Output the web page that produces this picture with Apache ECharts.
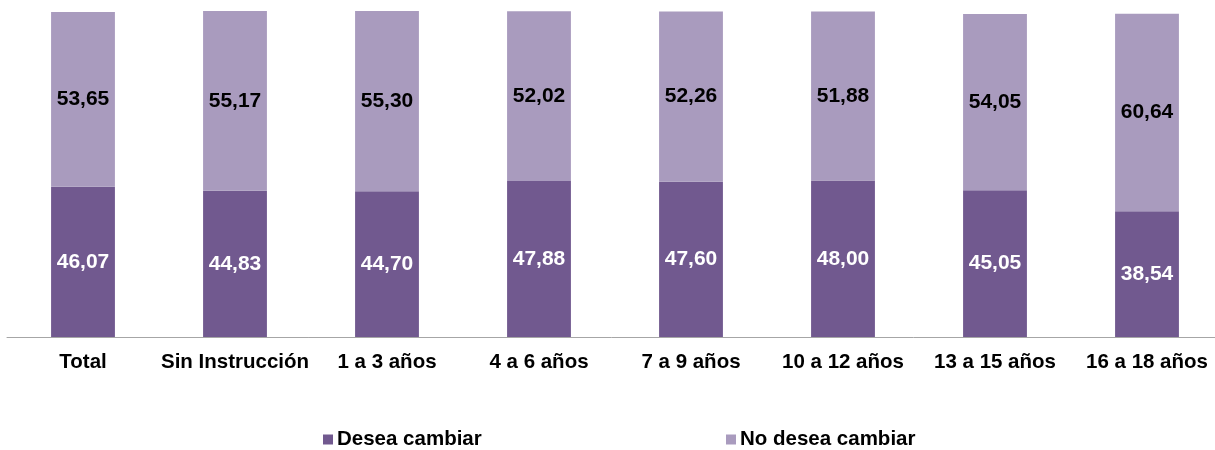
<!DOCTYPE html>
<html>
<head>
<meta charset="utf-8">
<script src="https://cdn.jsdelivr.net/npm/echarts@6/dist/echarts.min.js"></script>
<style>
html,body{margin:0;padding:0;background:#fff;}
#chart{width:1215px;height:450px;}
</style>
</head>
<body>
<div id="chart"></div>
<script>
var categories = ['Total', 'Sin Instrucción', '1 a 3 años', '4 a 6 años', '7 a 9 años', '10 a 12 años', '13 a 15 años', '16 a 18 años'];
var deseaCambiar = [46.07, 44.83, 44.70, 47.88, 47.60, 48.00, 45.05, 38.54];
var noDeseaCambiar = [53.65, 55.17, 55.30, 52.02, 52.26, 51.88, 54.05, 60.64];

var myChart = echarts.init(document.getElementById('chart'));

function fmt(p) {
	return p.value.toFixed(2).replace('.', ',');
}

var legendText = { fontSize: 20.5, fontWeight: 'bold', color: '#000', padding: [0, 0, 0, -1] };

var option = {
	animation: false,
	textStyle: { fontFamily: 'Liberation Sans, Arial, sans-serif' },
	grid: { left: 7, width: 1216, top: 11, bottom: 113, containLabel: false, outerBoundsMode: 'none' },
	legend: [
		{ top: 429, left: 323, padding: 0, itemWidth: 10, itemHeight: 10, icon: 'rect', textStyle: legendText, data: ['Desea cambiar'] },
		{ top: 429, left: 726, padding: 0, itemWidth: 10, itemHeight: 10, icon: 'rect', textStyle: legendText, data: ['No desea cambiar'] }
	],
	xAxis: {
		type: 'category',
		data: categories,
		axisLine: { lineStyle: { color: '#A6A6A6', width: 1 } },
		axisTick: { show: false },
		axisLabel: { color: '#000', fontSize: 20.5, fontWeight: 'bold', margin: 15, interval: 0 }
	},
	yAxis: {
		type: 'value',
		min: 0,
		max: 100,
		show: false,
		splitLine: { show: false }
	},
	series: [
		{
			name: 'Desea cambiar',
			type: 'bar',
			stack: 'total',
			barWidth: '42%',
			data: deseaCambiar,
			itemStyle: { color: '#71598F' },
			label: { show: true, position: 'inside', color: '#fff', fontSize: 21, fontWeight: 'bold', formatter: fmt }
		},
		{
			name: 'No desea cambiar',
			type: 'bar',
			stack: 'total',
			barWidth: '42%',
			data: noDeseaCambiar,
			itemStyle: { color: '#A99BBE' },
			label: { show: true, position: 'inside', color: '#000', fontSize: 21, fontWeight: 'bold', formatter: fmt }
		}
	]
};
myChart.setOption(option);
</script>
</body>
</html>
